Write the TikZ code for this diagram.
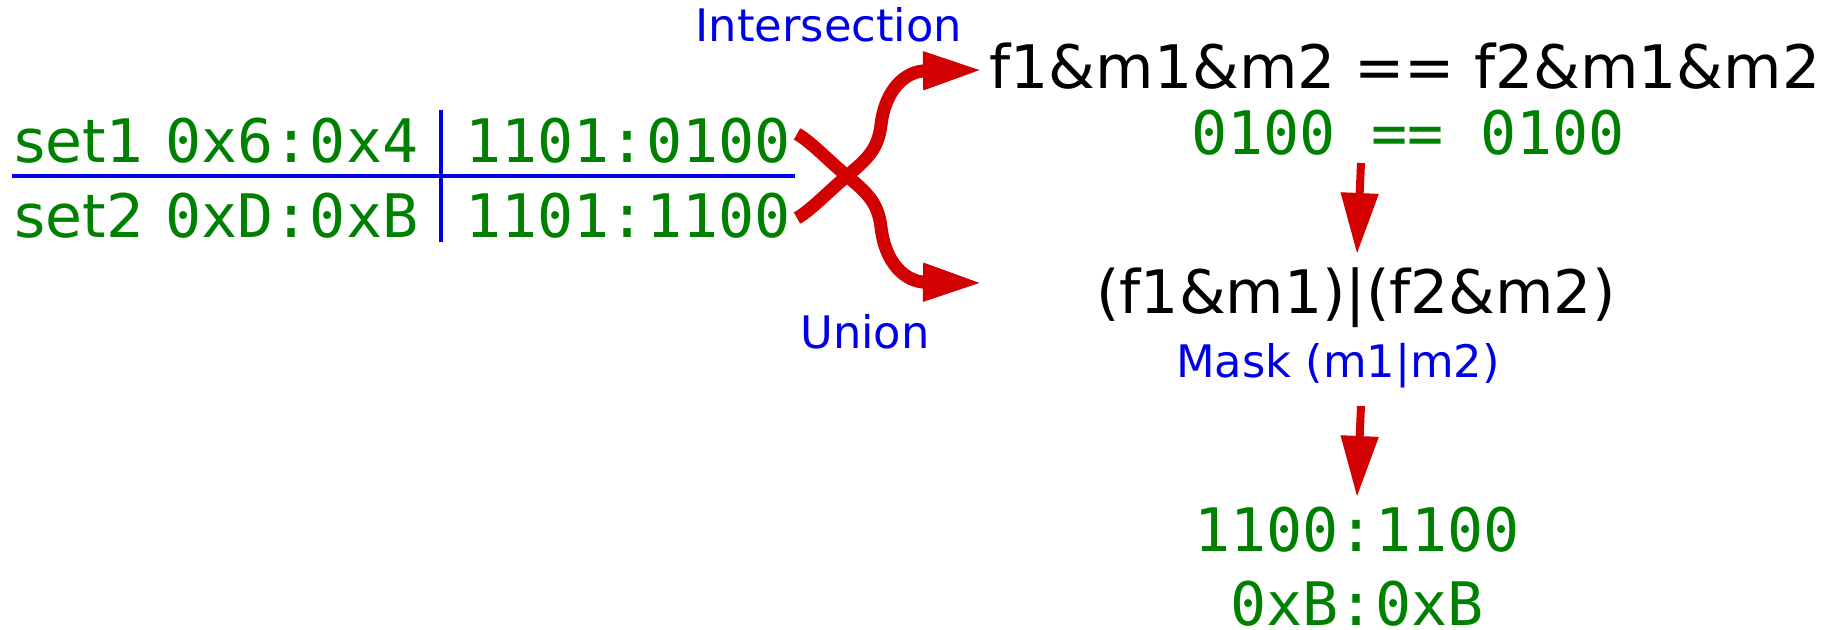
\documentclass[tikz,border=0pt]{standalone}
\usepackage{fontspec}
\setmainfont{DejaVu Sans}
\newfontfamily\monofont{DejaVu Sans Mono}
\usetikzlibrary{arrows.meta}
\definecolor{tgreen}{RGB}{0,128,0}
\definecolor{tblue}{RGB}{0,0,230}
\definecolor{tred}{RGB}{210,0,0}
\begin{document}
\begin{tikzpicture}[x=0.5pt,y=-0.5pt,
  sanscode/.style={inner sep=0pt,text=tgreen,font=\fontsize{30}{36}\selectfont},
  code/.style={inner sep=0pt,text=tgreen,font=\fontsize{30}{36}\selectfont\monofont},
  expr/.style={inner sep=0pt,text=black,font=\fontsize{30}{36}\selectfont},
  lbl/.style={inner sep=0pt,text=tblue,font=\fontsize{22.4}{27}\selectfont},
  rule/.style={draw=tblue,line width=2pt},
  flow/.style={draw=tred,line width=6.5pt,-{Triangle[length=30pt,width=17.5pt]}},
  downarrow/.style={draw=tred,line width=4pt,-{Triangle[length=30.5pt,width=18pt]}}
]
\useasboundingbox (0,0) rectangle (1844,630);
% left table
\node[sanscode,anchor=base west] (s1) at (14,163) {set1};
\node[code,anchor=base west] (h1) at (165,163) {0x6:0x4};
\node[code,anchor=base west] (b1) at (465,163) {1101:0100};
\node[sanscode,anchor=base west] (s2) at (14,238) {set2};
\node[code,anchor=base west] (h2) at (165,238) {0xD:0xB};
\node[code,anchor=base west] (b2) at (465,238) {1101:1100};
\coordinate (hl) at (12,176);
\coordinate (hr) at (795,176);
\coordinate (vt) at (441,110);
\coordinate (vb) at (441,242);
\draw[rule] (hl) -- (hr);
\draw[rule] (vt) -- (vb);
% right side
\node[lbl,anchor=base] (il) at (829,42) {Intersection};
\node[expr,anchor=base] (e1) at (1405,89) {f1\&m1\&m2 == f2\&m1\&m2};
\node[code,anchor=base] (v1) at (1408,155) {0100 == 0100};
\node[lbl,anchor=base] (ul) at (865,349) {Union};
\node[expr,anchor=base] (e2) at (1356,314) {(f1\&m1)|(f2\&m2)};
\node[lbl,anchor=base] (ml) at (1338,378) {Mask (m1|m2)};
\node[code,anchor=base] (r1) at (1357,552) {1100:1100};
\node[code,anchor=base] (r2) at (1357,626) {0xB:0xB};
% crossing curves
\coordinate (t1) at (797,134);
\coordinate (t2) at (797,218);
\coordinate (cx) at (847,176);
\coordinate (p1) at (983,70);
\coordinate (p2) at (983,283);
\draw[flow] (t2) .. controls (809,212) and (830,190) .. (cx)
  .. controls (866,160) and (878,150) .. (881,125)
  .. controls (885,90) and (905,71) .. (p1);
\draw[flow] (t1) .. controls (809,140) and (830,162) .. (cx)
  .. controls (866,192) and (878,202) .. (881,227)
  .. controls (885,263) and (905,282) .. (p2);
% vertical arrows
\coordinate (a1s) at (1361,163);
\coordinate (a1e) at (1357,254);
\coordinate (a2s) at (1361,406);
\coordinate (a2e) at (1357,497);
\draw[downarrow] (a1s) -- (a1e);
\draw[downarrow] (a2s) -- (a2e);
\end{tikzpicture}
\end{document}
